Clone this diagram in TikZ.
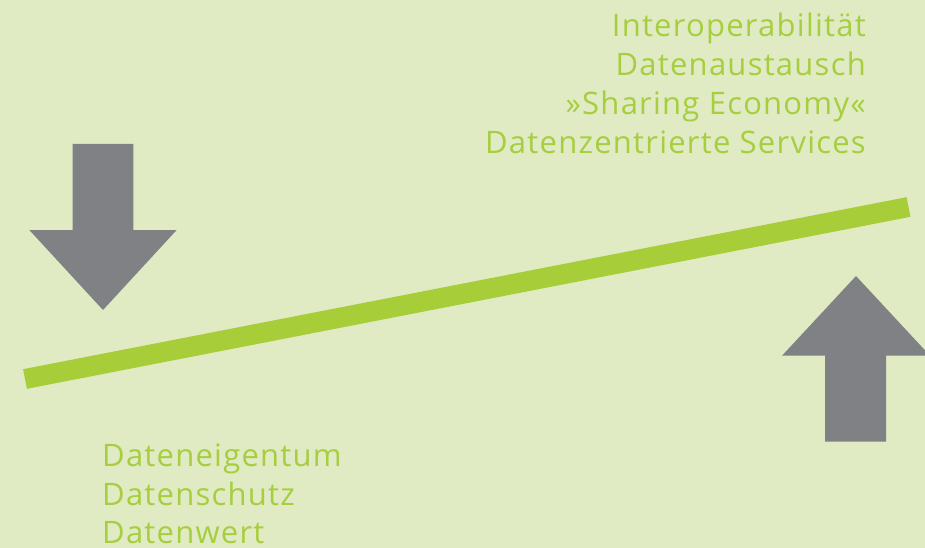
\documentclass[tikz,border=0pt]{standalone}
\usepackage{fontspec}
\setmainfont{Open Sans}[LetterSpace=4]
\definecolor{bg}{HTML}{E0EBC4}
\definecolor{bargreen}{HTML}{A7CE39}
\definecolor{txtgreen}{HTML}{A6CE3E}
\definecolor{arrowgray}{HTML}{808184}
\begin{document}
\begin{tikzpicture}[x=1pt,y=-1pt,
  lbl/.style={text=txtgreen, font=\fontsize{31}{38}\selectfont, inner sep=0pt},
  arr/.style={fill=arrowgray, draw=none}]
\fill[bg] (0,0) rectangle (925,548);
\useasboundingbox (0,0) rectangle (925,548);
% seesaw bar
\coordinate (barL) at (25,379);
\coordinate (barR) at (908.5,207);
\draw[bargreen, line width=20pt] (barL) -- (barR);
% down arrow (left)
\fill[arr] (72.7,144) -- (133.3,144) -- (133.3,230) -- (176.7,230) -- (103,310) -- (29.3,230) -- (72.7,230) -- cycle;
% up arrow (right)
\fill[arr] (825,441.7) -- (886,441.7) -- (886,355.7) -- (930,355.7) -- (856,276) -- (782,355.7) -- (825,355.7) -- cycle;
% texts
\node[lbl, anchor=base east] (t1) at (866,36.7) {Interoperabilität};
\node[lbl, anchor=base east] (t2) at (866,75.5) {Datenaustausch};
\node[lbl, anchor=base east] (t3) at (866,114.3) {»Sharing Economy«};
\node[lbl, anchor=base east] (t4) at (866,153.2) {Datenzentrierte Services};
\node[lbl, anchor=base west] (b1) at (102,466.7) {Dateneigentum};
\node[lbl, anchor=base west] (b2) at (102,505) {Datenschutz};
\node[lbl, anchor=base west] (b3) at (102,543.3) {Datenwert};
\end{tikzpicture}
\end{document}
